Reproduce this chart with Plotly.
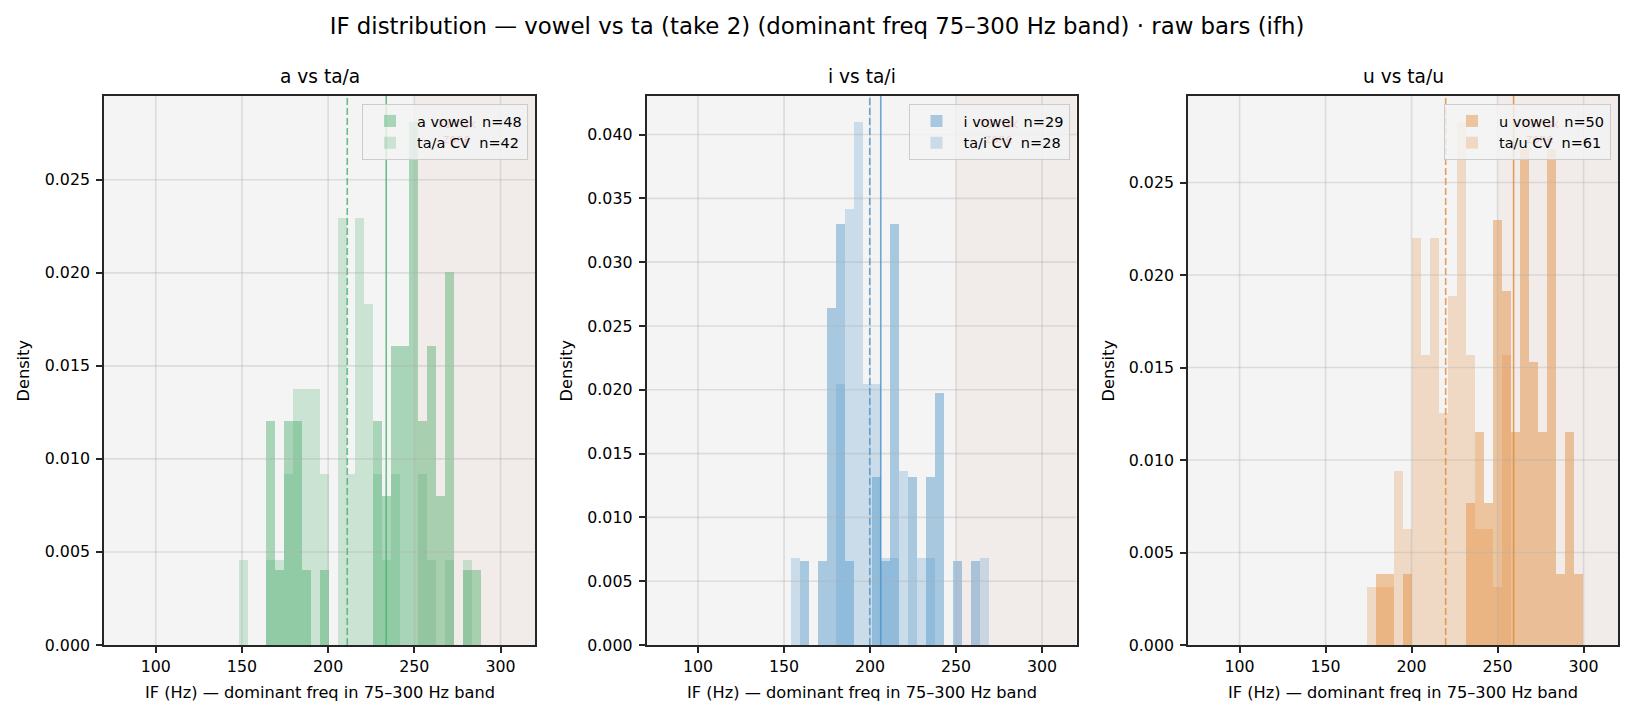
import plotly.graph_objects as go

# ---------------- data ----------------
panel_titles = ["a vs ta/a", "i vs ta/i", "u vs ta/u"]
suptitle = "IF distribution — vowel vs ta (take 2) (dominant freq 75–300 Hz band) · raw bars (ifh)"
x_label = "IF (Hz) — dominant freq in 75–300 Hz band"
y_label = "Density"

# panel a
a_bin_start = 148.4
a_bin_width = 5.19
a_vowel_counts = [0, 0, 0, 3, 1, 3, 3, 1, 0, 1, 0, 0, 0, 0, 0, 3, 2, 4, 4, 7, 3, 4, 2, 5, 0, 1, 1]
a_ta_counts = [1, 0, 0, 1, 1, 2, 3, 3, 3, 2, 0, 5, 2, 5, 4, 2, 1, 2, 0, 0, 2, 1, 0, 1, 0, 1, 0]
a_vowel_n = 48
a_ta_n = 42
a_vowel_mean = 233.7
a_ta_mean = 211.1

# panel i
i_bin_start = 153.8
i_bin_width = 5.23
i_vowel_counts = [0, 1, 0, 1, 4, 5, 1, 0, 0, 2, 1, 5, 0, 2, 0, 2, 3, 0, 1, 0, 1, 0]
i_ta_counts = [1, 0, 0, 0, 0, 3, 5, 6, 3, 3, 1, 1, 2, 0, 1, 1, 0, 0, 0, 0, 0, 1]
i_vowel_n = 29
i_ta_n = 28
i_vowel_mean = 206.2
i_ta_mean = 199.8

# panel u
u_bin_start = 174.1
u_bin_width = 5.22
u_vowel_counts = [0, 1, 1, 0, 1, 0, 0, 0, 0, 0, 0, 2, 3, 2, 6, 5, 3, 7, 4, 3, 7, 1, 3, 1]
u_ta_counts = [1, 1, 1, 3, 2, 7, 5, 7, 4, 6, 9, 5, 2, 2, 1, 5, 0, 0, 0, 0, 0, 0, 0, 0]
u_vowel_n = 50
u_ta_n = 61
u_vowel_mean = 259.3
u_ta_mean = 219.8

vowel_names = ["a vowel  n=48", "i vowel  n=29", "u vowel  n=50"]
ta_names = ["ta/a CV  n=42", "ta/i CV  n=28", "ta/u CV  n=61"]

x_range = [70, 320]
x_ticks = [100, 150, 200, 250, 300]
y_ticks_a = [0.000, 0.005, 0.010, 0.015, 0.020, 0.025]
y_ticks_i = [0.000, 0.005, 0.010, 0.015, 0.020, 0.025, 0.030, 0.035, 0.040]
y_ticks_u = [0.000, 0.005, 0.010, 0.015, 0.020, 0.025]
f1_zone_start = 250
f1_zone_label = "F1 risk<br>zone"

base_rgb = [(75, 175, 111), (75, 146, 200), (226, 137, 53)]

# ---------------- layout geometry ----------------
W, H = 1634, 719
ml, mr, mt, mb = 104, 16, 96, 74
pw = W - ml - mr
ph = H - mt - mb
axes_px = [(104, 535), (646.5, 1076.5), (1188, 1618)]
domains = [[(a - ml) / pw, (b - ml) / pw] for a, b in axes_px]
domains[-1][1] = 1.0

panels = [
    (a_bin_start, a_bin_width, a_vowel_counts, a_ta_counts, a_vowel_n, a_ta_n, a_vowel_mean, a_ta_mean, y_ticks_a),
    (i_bin_start, i_bin_width, i_vowel_counts, i_ta_counts, i_vowel_n, i_ta_n, i_vowel_mean, i_ta_mean, y_ticks_i),
    (u_bin_start, u_bin_width, u_vowel_counts, u_ta_counts, u_vowel_n, u_ta_n, u_vowel_mean, u_ta_mean, y_ticks_u),
]

FONT = "DejaVu Sans"
fig = go.Figure()
shapes = []
annotations = []
layout = {}

for p, (start, width, vc, tc, vn, tn, vmean, tmean, yt) in enumerate(panels):
    sfx = "" if p == 0 else str(p + 1)
    xa, ya = "x" + sfx, "y" + sfx
    leg = "legend" + sfx
    r, g, b = base_rgb[p]
    centers = [start + width * (k + 0.5) for k in range(len(vc))]
    vd = [c / (vn * width) for c in vc]
    td = [c / (tn * width) for c in tc]
    ymax = 1.05 * max(max(vd), max(td))

    fig.add_trace(go.Bar(x=centers, y=vd, width=[width] * len(vc), name=vowel_names[p],
                         marker=dict(color=f"rgba({r},{g},{b},0.45)", line=dict(width=0)),
                         xaxis=xa, yaxis=ya, legend=leg, hoverinfo="skip"))
    fig.add_trace(go.Bar(x=centers, y=td, width=[width] * len(tc), name=ta_names[p],
                         marker=dict(color=f"rgba({r},{g},{b},0.25)", line=dict(width=0)),
                         xaxis=xa, yaxis=ya, legend=leg, hoverinfo="skip"))

    axis_common = dict(showline=True, mirror=True, linecolor="#262626", linewidth=1.6,
                       ticks="outside", ticklen=6, tickwidth=1.6, tickcolor="#262626",
                       showgrid=False, zeroline=False, layer="above traces",
                       tickfont=dict(family=FONT, size=15.8, color="#000000"))
    layout["xaxis" + sfx] = dict(axis_common, domain=domains[p], range=x_range,
                                 tickvals=x_ticks, ticktext=[str(v) for v in x_ticks],
                                 anchor=ya)
    layout["yaxis" + sfx] = dict(axis_common, domain=[0, 1], range=[0, ymax],
                                 tickvals=yt, ticktext=[f"{v:.3f}" for v in yt],
                                 anchor=xa, ticklabelstandoff=3)

    # F1 risk zone
    shapes.append(dict(type="rect", xref=xa, yref=ya + " domain", x0=f1_zone_start, x1=x_range[1],
                       y0=0, y1=1, fillcolor="rgba(204,104,64,0.05)", line=dict(width=0), layer="above"))
    # grid (drawn above bars like matplotlib)
    for xv in x_ticks:
        shapes.append(dict(type="line", xref=xa, yref=ya + " domain", x0=xv, x1=xv, y0=0, y1=1,
                           line=dict(color="rgba(176,176,176,0.35)", width=1.6), layer="above"))
    for yv in yt[1:]:
        shapes.append(dict(type="line", xref=xa + " domain", yref=ya, x0=0, x1=1, y0=yv, y1=yv,
                           line=dict(color="rgba(176,176,176,0.35)", width=1.6), layer="above"))
    # mean lines
    shapes.append(dict(type="line", xref=xa, yref=ya + " domain", x0=vmean, x1=vmean, y0=0, y1=1,
                       line=dict(color=f"rgba({r},{g},{b},0.8)", width=1.6), layer="above"))
    shapes.append(dict(type="line", xref=xa, yref=ya + " domain", x0=tmean, x1=tmean, y0=0, y1=1,
                       line=dict(color=f"rgba({r},{g},{b},0.8)", width=1.6, dash="7px,3px"), layer="above"))

    # zone label (sits under the legend, as in the reference)
    annotations.append(dict(text=f1_zone_label, xref=xa, yref=ya + " domain",
                            x=(f1_zone_start + 300) / 2, y=0.965, xanchor="center", yanchor="top",
                            showarrow=False, font=dict(family=FONT, size=11.5, color="rgba(214,39,40,0.17)")))
    # panel title
    cx = (domains[p][0] + domains[p][1]) / 2
    annotations.append(dict(text=panel_titles[p], xref="paper", yref="paper", x=cx,
                            y=(644.7 - 76) / ph, xanchor="center", yanchor="middle", showarrow=False,
                            font=dict(family=FONT, size=18.6, color="#000000")))
    # axis labels
    annotations.append(dict(text=x_label, xref="paper", yref="paper", x=cx,
                            y=(644.7 - 692) / ph, xanchor="center", yanchor="middle", showarrow=False,
                            font=dict(family=FONT, size=16.2, color="#000000")))
    ylab_px = [23, 566, 1108][p]
    annotations.append(dict(text=y_label, xref="paper", yref="paper", x=(ylab_px - ml) / pw,
                            y=0.5, xanchor="center", yanchor="middle", textangle=-90, showarrow=False,
                            font=dict(family=FONT, size=16.2, color="#000000")))

    # legend (upper right, inside)
    layout[leg] = dict(x=domains[p][1] - 7 / pw, y=1 - 8 / ph, xanchor="right", yanchor="top",
                       bgcolor="rgba(244,244,244,0.8)", bordercolor="#cccccc", borderwidth=1,
                       font=dict(family=FONT, size=14.5, color="#000000"), tracegroupgap=0,
                       itemwidth=44)

fig.update_layout(
    width=W, height=H, margin=dict(l=ml, r=mr, t=mt, b=mb, autoexpand=False),
    paper_bgcolor="white", plot_bgcolor="#f4f4f4", barmode="overlay", bargap=0,
    hovermode=False, showlegend=True,
    title=dict(text=suptitle, x=0.5, xref="container", y=1 - 26 / H, yref="container",
               xanchor="center", yanchor="middle", font=dict(family=FONT, size=22.85, color="#000000")),
    shapes=shapes, annotations=annotations, **layout,
)

fig.write_html("out.html")
